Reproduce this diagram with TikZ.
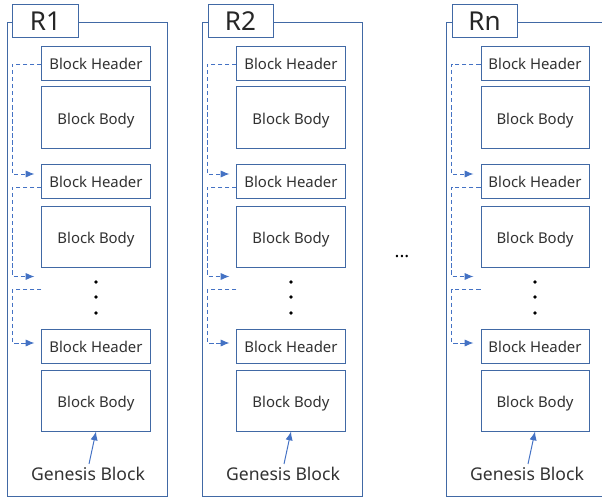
\documentclass[tikz,border=0pt]{standalone}
\usepackage{fontspec}
\setmainfont{Noto Sans}
\usetikzlibrary{arrows.meta,calc}

\definecolor{boxblue}{RGB}{65,105,165}
\definecolor{linkblue}{RGB}{68,114,196}
\definecolor{txtgray}{RGB}{50,50,50}

\tikzset{
  blk/.style={draw=boxblue, line width=0.7pt, fill=white, minimum width=2.7cm, inner sep=0pt, text=txtgray, font=\fontsize{10.6}{13}\selectfont, text height=1em, text depth=0.05em},
  hdr/.style={blk, minimum height=0.85cm},
  body/.style={blk, minimum height=1.525cm},
  ttl/.style={draw=boxblue, line width=0.7pt, fill=white, minimum width=1.625cm, minimum height=0.8cm, inner sep=0pt, text=black!85, font=\fontsize{18.5}{20}\selectfont},
  link/.style={linkblue, line width=0.7pt, dash pattern=on 3pt off 2pt, -{Latex[length=2.2mm,width=1.8mm]}},
  gen/.style={linkblue, line width=0.7pt, -{Latex[length=2.2mm,width=1.8mm]}},
}

\begin{document}
\begin{tikzpicture}[x=0.025cm, y=-0.025cm]
	\useasboundingbox (0,0) rectangle (602,498);
	\clip (0,0) rectangle (602,498);
	\foreach \c/\n in {0/1, 195/2, 439/n} {
		% one chain
		\draw[boxblue, line width=0.7pt] (\c+7,22) rectangle (\c+167,496);
		\node[ttl] (r\n) at (\c+45.5,21) {R\n};
		\node[hdr] (h1-\n) at (\c+96,63) {Block Header};
		\node[body] (b1-\n) at (\c+96,117.5) {Block Body};
		\node[hdr] (h2-\n) at (\c+96,181) {Block Header};
		\node[body] (b2-\n) at (\c+96,236.5) {Block Body};
		\node[hdr] (h3-\n) at (\c+96,346) {Block Header};
		\node[body] (b3-\n) at (\c+96,400.5) {Block Body};
		\node[text=txtgray, font=\fontsize{12.5}{14}\selectfont, inner sep=0pt] (g\n) at (\c+88,474) {Genesis Block};
		\foreach \d in {282,297,313}
			\fill[black] (\c+96,\d) circle (1.3pt);
		% links
		\draw[link] ($(h1-\n.west)+(0,1)$) -- ++(-29,0) |- ($(h2-\n.west)+(-7,-7)$);
		\draw[link] ($(h2-\n.west)+(0,6)$) -- ++(-29,0) |- ($(b2-\n.south west)+(-7,9)$);
		\draw[link] ($(b2-\n.south west)+(0,22)$) -- ++(-29,0) |- ($(h3-\n.west)+(-7,-3)$);
		\draw[gen] ($(g\n.north)+(1,-3)$) -- (b3-\n.south);
	}
	\node[text=black, font=\fontsize{13}{15}\selectfont\bfseries] (etc) at (402,257) {...};
\end{tikzpicture}
\end{document}
